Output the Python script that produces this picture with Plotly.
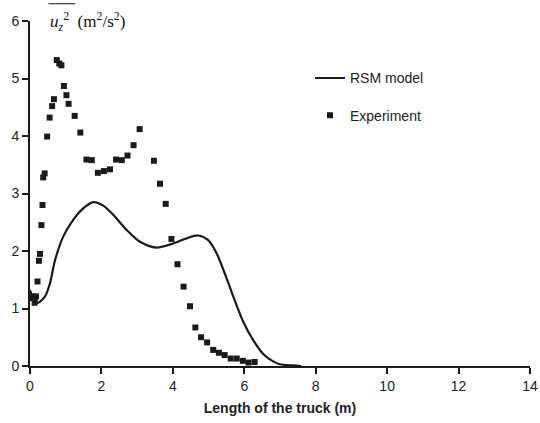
import plotly.graph_objects as go

# Experiment data
exp_x = [0.05, 0.09, 0.13, 0.17, 0.13, 0.21, 0.25, 0.28, 0.32, 0.35, 0.37, 0.41, 0.48, 0.55, 0.62, 0.67,
         0.75, 0.82, 0.88, 0.95, 1.02, 1.08, 1.25, 1.41, 1.58, 1.73, 1.90, 2.07, 2.24, 2.41, 2.57,
         2.73, 2.90, 3.07, 3.47, 3.64, 3.80, 3.96, 4.13, 4.30, 4.48, 4.63, 4.79, 4.96, 5.13, 5.29,
         5.45, 5.62, 5.79, 5.96, 6.12, 6.29]
exp_y = [1.18, 1.21, 1.10, 1.21, 1.18, 1.47, 1.83, 1.95, 2.45, 2.80, 3.28, 3.35, 3.99, 4.32, 4.52, 4.64,
         5.32, 5.26, 5.23, 4.87, 4.71, 4.56, 4.35, 4.06, 3.59, 3.58, 3.36, 3.39, 3.42, 3.59, 3.58,
         3.66, 3.84, 4.12, 3.57, 3.17, 2.82, 2.21, 1.77, 1.38, 1.04, 0.67, 0.50, 0.41, 0.28, 0.23,
         0.19, 0.13, 0.13, 0.09, 0.06, 0.07]

# RSM model curve
rsm_x = [0.0, 0.03, 0.14, 0.23, 0.42, 0.56, 0.70, 0.93, 1.21, 1.49, 1.77, 2.05, 2.33, 2.70, 3.08,
         3.54, 4.01, 4.38, 4.71, 4.99, 5.13, 5.27, 5.41, 5.55, 5.69, 5.97, 6.25, 6.53, 6.81, 6.99, 7.36, 7.6]
rsm_y = [1.32, 1.27, 1.12, 1.10, 1.21, 1.44, 1.84, 2.25, 2.54, 2.74, 2.85, 2.79, 2.63, 2.37, 2.16,
         2.06, 2.13, 2.22, 2.27, 2.19, 2.07, 1.90, 1.68, 1.45, 1.21, 0.77, 0.45, 0.21, 0.08, 0.03, 0.01, 0.0]

x_ticks = [0, 2, 4, 6, 8, 10, 12, 14]
y_ticks = [0, 1, 2, 3, 4, 5, 6]

fig = go.Figure()
fig.add_trace(go.Scatter(x=rsm_x, y=rsm_y, mode="lines", name="RSM model", legendgroup="a",
                         line=dict(color="#1a1a1a", width=2.2, shape="spline", smoothing=0.8)))
fig.add_trace(go.Scatter(x=exp_x, y=exp_y, mode="markers", name="Experiment", legendgroup="b",
                         marker=dict(symbol="square", size=6, color="#1a1a1a")))

axis_common = dict(showgrid=False, zeroline=False, showline=True, linecolor="#1a1a1a",
                   linewidth=2, ticks="outside", tickcolor="#1a1a1a", tickwidth=1.5, ticklen=6,
                   automargin=False,
                   tickfont=dict(family="Arial, Liberation Sans", size=14, color="#222"))

fig.update_layout(
    width=540, height=423,
    margin=dict(l=30, r=10, t=21, b=57),
    paper_bgcolor="white", plot_bgcolor="white",
    xaxis=dict(range=[0, 14], tickvals=x_ticks, **axis_common,
               title=dict(text="<b>Length of the truck (m)</b>", standoff=10,
                          font=dict(family="Arial, Liberation Sans", size=14, color="#222"))),
    yaxis=dict(range=[0, 6], tickvals=y_ticks, **axis_common),
    legend=dict(x=0.56, y=0.88, xanchor="left", yanchor="top", bgcolor="rgba(0,0,0,0)",
                font=dict(family="Arial, Liberation Sans", size=14, color="#222"),
                tracegroupgap=16, itemwidth=30),
    showlegend=True,
)

# y-axis label with overline
fig.add_annotation(xref="paper", yref="paper", x=0.036, y=1.0, xanchor="left", yanchor="middle",
                   text="<i>u</i><sub><i>z</i></sub><sup>2</sup>  (m<sup>2</sup>/s<sup>2</sup>)",
                   showarrow=False, font=dict(family="Liberation Serif, Times New Roman", size=17, color="#111"))
fig.add_shape(type="line", xref="paper", yref="paper", x0=0.037, x1=0.09, y0=1.05, y1=1.05,
              line=dict(color="#111", width=1))

fig.write_html("out.html")
